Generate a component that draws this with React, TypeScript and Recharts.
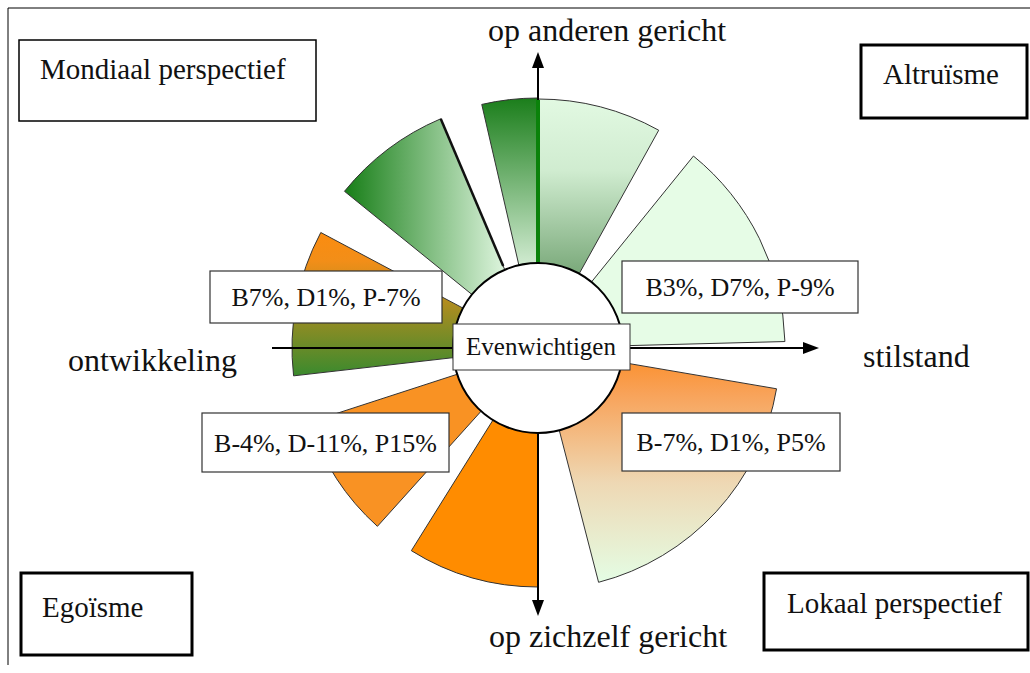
import React from 'react';
import { PieChart, Pie, Cell } from 'recharts';

document.body.style.margin = '0';

const W = 1030;
const H = 673;
const CX = 538;
const CY = 348;
const HUB_R = 85;
const SERIF = '"Liberation Serif", "Times New Roman", serif';

// sectors, counter-clockwise angles from 3 o'clock, reach in px
const sectorNames = ['boven-smal', 'boven-rechts', 'rechts-boven', 'rechts-onder', 'onder', 'links-onder', 'links', 'links-boven'];
const sectorFrom = [90, 61, 1.5, -75.5, -122, -162, 152, 113];
const sectorTo = [103, 90, 51, -9.7, -90, -132, 186.5, 141];
const sectorReach = [250, 249, 247, 242, 239, 240, 246, 249];

const axisLabels = ['op anderen gericht', 'stilstand', 'op zichzelf gericht', 'ontwikkeling'];
const cornerLabels = ['Mondiaal perspectief', 'Altruïsme', 'Egoïsme', 'Lokaal perspectief'];
const scoreLabels = ['B7%, D1%, P-7%', 'B3%, D7%, P-9%', 'B-4%, D-11%, P15%', 'B-7%, D1%, P5%'];
const hubLabel = 'Evenwichtigen';

const sectorFills = ['url(#gTop)', 'url(#gTopRight)', '#e6fce6', 'url(#gRightLow)', '#ff8c00', '#f99223', 'url(#gLeft)', 'url(#gUpLeft)'];

const cornerBoxes = [
    { x: 19, y: 40, w: 297, h: 81, tx: 40, ty: 79, bw: 1.5 },
    { x: 861, y: 45, w: 166, h: 73, tx: 883, ty: 84, bw: 3 },
    { x: 21, y: 573, w: 171, h: 82, tx: 42, ty: 617, bw: 3 },
    { x: 764, y: 573, w: 264, h: 77, tx: 787, ty: 613, bw: 3 },
];
const scoreBoxes = [
    { x: 210, y: 271, w: 232, h: 52 },
    { x: 622, y: 261, w: 236, h: 52 },
    { x: 202, y: 413, w: 247, h: 59 },
    { x: 622, y: 413, w: 218, h: 58 },
];

function Overlay() {
    const top = 52;
    const bottom = 616;
    const left = 272;
    const right = 819;
    const head = 16;
    const rad = (sectorFrom[7] * Math.PI) / 180;
    return (
        <svg width={W} height={H} style={{ position: 'absolute', left: 0, top: 0, pointerEvents: 'none' }}>
            <line x1={8} y1={8} x2={W} y2={8} stroke="#000" strokeWidth={1} />
            <line x1={8} y1={8} x2={8} y2={665} stroke="#000" strokeWidth={1} />

            <line x1={CX} y1={top + head - 2} x2={CX} y2={bottom - head + 2} stroke="#000" strokeWidth={2} />
            <line x1={left} y1={CY} x2={right - head + 2} y2={CY} stroke="#000" strokeWidth={2} />
            <polygon points={`${CX},${top} ${CX - 6},${top + head} ${CX + 6},${top + head}`} fill="#000" />
            <polygon points={`${CX},${bottom} ${CX - 6},${bottom - head} ${CX + 6},${bottom - head}`} fill="#000" />
            <polygon points={`${right},${CY} ${right - head},${CY - 6} ${right - head},${CY + 6}`} fill="#000" />
            <line x1={CX} y1={CY - sectorReach[1] + 1} x2={CX} y2={CY - HUB_R} stroke="#0a820a" strokeWidth={4} />
            {/* heavy shadow edge on the upper-left sector */}
            <line
                x1={CX + (HUB_R + 4) * Math.cos(rad)}
                y1={CY - (HUB_R + 4) * Math.sin(rad)}
                x2={CX + sectorReach[7] * Math.cos(rad)}
                y2={CY - sectorReach[7] * Math.sin(rad)}
                stroke="#111"
                strokeWidth={2.5}
            />

            <circle cx={CX} cy={CY} r={HUB_R} fill="#fff" stroke="#000" strokeWidth={2} />
            <rect x={453} y={324} width={177} height={46} fill="#fff" stroke="#333" strokeWidth={1} />
            <text x={CX + 3} y={355} textAnchor="middle" fontFamily={SERIF} fontSize={25} fill="#111">{hubLabel}</text>

            <text x={607} y={41} textAnchor="middle" fontFamily={SERIF} fontSize={32} fill="#111">{axisLabels[0]}</text>
            <text x={863} y={367} fontFamily={SERIF} fontSize={32} fill="#111">{axisLabels[1]}</text>
            <text x={608} y={647} textAnchor="middle" fontFamily={SERIF} fontSize={32} fill="#111">{axisLabels[2]}</text>
            <text x={68} y={371} fontFamily={SERIF} fontSize={32} fill="#111">{axisLabels[3]}</text>

            {cornerBoxes.map((b, i) => (
                <g key={cornerLabels[i]}>
                    <rect x={b.x} y={b.y} width={b.w} height={b.h} fill="#fff" stroke="#000" strokeWidth={b.bw} />
                    <text x={b.tx} y={b.ty} fontFamily={SERIF} fontSize={29} fill="#111">{cornerLabels[i]}</text>
                </g>
            ))}
            {scoreBoxes.map((b, i) => (
                <g key={scoreLabels[i]}>
                    <rect x={b.x} y={b.y} width={b.w} height={b.h} fill="#fff" stroke="#333" strokeWidth={1.2} />
                    <text x={b.x + b.w / 2} y={b.y + b.h / 2 + 9} textAnchor="middle" fontFamily={SERIF} fontSize={26} fill="#111">
                        {scoreLabels[i]}
                    </text>
                </g>
            ))}
        </svg>
    );
}

export default function App() {
    return (
        <div style={{ position: 'relative', width: W, height: H, background: '#fff' }}>
            <PieChart width={W} height={H} margin={{ top: 0, right: 0, bottom: 0, left: 0 }}>
                <defs>
                    <linearGradient id="gTop" x1="0" y1="0" x2="0" y2="1">
                        <stop offset="0%" stopColor="#1b7e1b" />
                        <stop offset="100%" stopColor="#d6eed6" />
                    </linearGradient>
                    <linearGradient id="gTopRight" x1="0" y1="0" x2="0" y2="1">
                        <stop offset="0%" stopColor="#e2f9e2" />
                        <stop offset="40%" stopColor="#d0ecd0" />
                        <stop offset="100%" stopColor="#76a676" />
                    </linearGradient>
                    <linearGradient id="gRightLow" x1="0" y1="0" x2="0" y2="1">
                        <stop offset="0%" stopColor="#fb9232" />
                        <stop offset="15%" stopColor="#f8a35a" />
                        <stop offset="55%" stopColor="#eed8b4" />
                        <stop offset="100%" stopColor="#e4fde4" />
                    </linearGradient>
                    <linearGradient id="gLeft" x1="0" y1="0" x2="0" y2="1">
                        <stop offset="0%" stopColor="#fb8c10" />
                        <stop offset="20%" stopColor="#f28e18" />
                        <stop offset="100%" stopColor="#3a8a2e" />
                    </linearGradient>
                    <linearGradient id="gUpLeft" x1="0" y1="0" x2="1" y2="0">
                        <stop offset="0%" stopColor="#177e17" />
                        <stop offset="100%" stopColor="#e0f6e0" />
                    </linearGradient>
                </defs>
                {sectorNames.map((name, i) => (
                    <Pie
                        key={name}
                        data={[{ name, value: Math.abs(sectorTo[i] - sectorFrom[i]) }]}
                        dataKey="value"
                        nameKey="name"
                        cx={CX}
                        cy={CY}
                        startAngle={sectorFrom[i]}
                        endAngle={sectorTo[i]}
                        innerRadius={HUB_R - 5}
                        outerRadius={sectorReach[i]}
                        stroke="#333"
                        strokeWidth={1}
                        isAnimationActive={false}
                    >
                        <Cell fill={sectorFills[i]} />
                    </Pie>
                ))}
            </PieChart>
            <Overlay />
        </div>
    );
}
